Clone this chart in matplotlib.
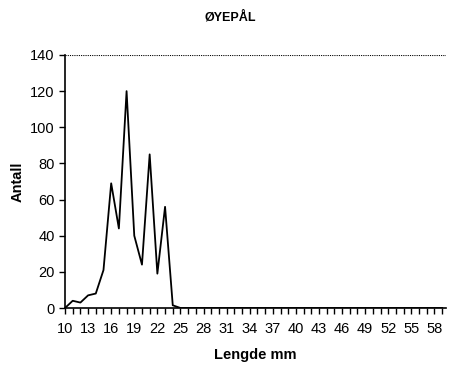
import matplotlib
matplotlib.use('Agg')
import matplotlib.pyplot as plt
import numpy as np

plt.rcParams['font.family'] = ['Liberation Sans', 'DejaVu Sans']

lengths = list(range(10, 60))
counts = [0, 4, 3, 7, 8, 21, 69, 44, 120, 40, 24, 85, 19, 56, 1.5, 0] + [0] * 34
tick_labels = list(range(10, 60, 3))

fig = plt.figure(figsize=(4.51, 3.69), dpi=100)
ax = fig.add_axes([65 / 451, 1 - 308 / 369, (446 - 65) / 451, (308 - 55) / 369])

ax.plot(lengths, counts, color='black', lw=1.3)

ax.set_xlim(10, 59.5)
ax.set_ylim(0, 140)
ax.set_yticks(range(0, 141, 20))
ax.set_xticks(lengths, minor=True)
ax.set_xticks(tick_labels)
ax.set_xticklabels([str(t) for t in tick_labels])

ax.axhline(140, color='black', lw=0.8, ls=(0, (1, 1)))
for s in ['top', 'right']:
    ax.spines[s].set_visible(False)
ax.spines['left'].set_linewidth(1.2)
ax.spines['bottom'].set_linewidth(1.2)

ax.tick_params(axis='both', direction='out', labelsize=10.5, width=1, length=4)
ax.tick_params(axis='x', which='minor', direction='out', width=1, length=4)
ax.tick_params(axis='x', pad=6)

ax.set_ylabel('Antall', fontsize=10.5, fontweight='bold', labelpad=4)
ax.set_xlabel('Lengde mm', fontsize=10.5, fontweight='bold', labelpad=9)
fig.text(0.51, 0.945, 'ØYEPÅL', ha='center', fontsize=9, fontweight='bold')

fig.savefig('out.png', dpi=100)
